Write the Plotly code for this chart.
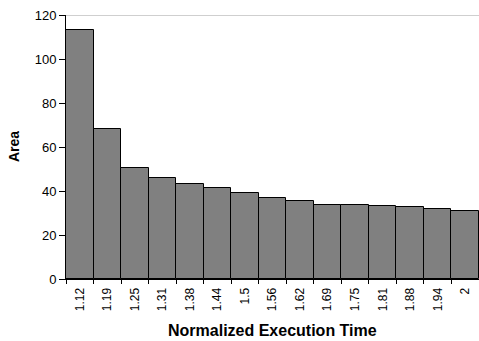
import plotly.graph_objects as go

categories = ["1.12", "1.19", "1.25", "1.31", "1.38", "1.44", "1.5", "1.56",
              "1.62", "1.69", "1.75", "1.81", "1.88", "1.94", "2"]
area = [113.2, 68.2, 50.3, 45.8, 43.2, 41.4, 39.2, 36.7, 35.3, 33.6, 33.6,
        33.2, 32.9, 32.0, 30.9]

fig = go.Figure()
fig.add_trace(go.Bar(
    x=categories, y=area,
    marker=dict(color="#808080", line=dict(color="black", width=1)),
))

font_family = "Liberation Sans, Arial, sans-serif"
fig.update_layout(
    width=479, height=341,
    margin=dict(l=66, r=0, t=15, b=62, autoexpand=False),
    paper_bgcolor="white", plot_bgcolor="white",
    bargap=0, showlegend=False,
    font=dict(family=font_family, color="black", size=12),
    xaxis=dict(
        type="category", tickangle=-90, tickson="boundaries",
        ticks="outside", ticklen=4, tickcolor="black",
        showline=True, linecolor="black", linewidth=1,
        tickfont=dict(size=12), automargin=False, ticklabelstandoff=3,
        showgrid=False,
    ),
    yaxis=dict(
        range=[0, 120], dtick=20, ticks="outside", ticklen=6, tickcolor="black",
        showline=True, linecolor="black", linewidth=1,
        showgrid=False, zeroline=False, automargin=False,
        tickfont=dict(size=13),
    ),
    shapes=[dict(type="line", xref="paper", yref="y", x0=0, x1=1, y0=120, y1=120,
                 line=dict(color="#a0a0a0", width=1))],
    annotations=[
        dict(text="<b>Normalized Execution Time</b>", xref="paper", yref="paper",
             x=0.5, y=0, yshift=-51, xanchor="center", yanchor="middle",
             showarrow=False, font=dict(size=16)),
        dict(text="<b>Area</b>", xref="paper", yref="paper",
             x=0, y=0.5, xshift=-52, xanchor="center", yanchor="middle",
             textangle=-90, showarrow=False, font=dict(size=14)),
    ],
)

fig.write_html("out.html", config={"displayModeBar": False},
               post_script="document.body.style.margin='0';document.body.style.overflow='hidden';")
